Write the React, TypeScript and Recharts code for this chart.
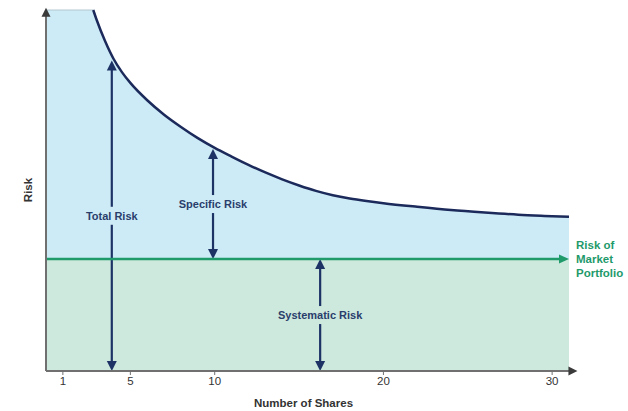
import React from 'react';
import { ComposedChart, Area, Line, XAxis, YAxis, ReferenceLine } from 'recharts';

// number of shares held in the portfolio
const shares = [0, 2.8, 3, 3.5, 4, 4.5, 5, 6, 7, 8, 9, 10, 11, 12, 13, 14, 15, 16, 17, 18, 19, 20, 22, 24, 26, 28, 30, 31];
// total portfolio risk (curve); null where it is above the chart
const totalRisk = [
  null, 100, 97.3, 91.4, 86.5, 82.8, 79.8, 75.0, 71.0, 67.6, 64.5, 61.8, 59.4, 57.1, 55.0, 53.1, 51.4, 49.9, 48.7,
  47.8, 47.1, 46.5, 45.5, 44.6, 43.9, 43.3, 42.9, 42.7,
];
const marketRisk = 31;
const xTicks = [1, 5, 10, 20, 30];

const arrowLabels = ['Total Risk', 'Specific Risk', 'Systematic Risk'];
const arrowShares = [3.9, 9.9, 16.25];
const arrowFrom = [0, marketRisk, 0];
const arrowTo = [86, 61.5, marketRisk];

const data = shares.map((n, i) => ({
  n,
  total: totalRisk[i],
  fillTop: totalRisk[i] == null ? 100 : Math.min(100, totalRisk[i] as number),
  market: marketRisk,
}));

const NAVY = '#1d3366';
const GREEN = '#1f9a6b';
const AXIS = '#707070';
const FONT = '"Liberation Sans", Arial, sans-serif';

const VArrow = (props: any) => {
  const { x1, y1, y2, label } = props;
  const top = Math.min(y1, y2);
  const bottom = Math.max(y1, y2);
  const mid = (top + bottom) / 2;
  const gap = 9;
  const hw = 5;
  const hl = 10;
  return (
    <g>
      <line x1={x1} y1={top + hl - 1} x2={x1} y2={mid - gap} stroke={NAVY} strokeWidth={2.2} />
      <line x1={x1} y1={mid + gap} x2={x1} y2={bottom - hl + 1} stroke={NAVY} strokeWidth={2.2} />
      <polygon points={`${x1},${top} ${x1 - hw},${top + hl} ${x1 + hw},${top + hl}`} fill={NAVY} />
      <polygon points={`${x1},${bottom} ${x1 - hw},${bottom - hl} ${x1 + hw},${bottom - hl}`} fill={NAVY} />
      <text x={x1} y={mid + 4} textAnchor="middle" fontSize={11} fontWeight="bold" fill="#2a3e6c" fontFamily={FONT}>
        {label}
      </text>
    </g>
  );
};

const MarketArrow = (props: any) => {
  const { x1, y1, x2 } = props;
  const hl = 10;
  const hw = 4.5;
  return (
    <g>
      <line x1={x1} y1={y1} x2={x2 - hl + 1} y2={y1} stroke={GREEN} strokeWidth={2.5} />
      <polygon points={`${x2},${y1} ${x2 - hl},${y1 - hw} ${x2 - hl},${y1 + hw}`} fill={GREEN} />
      <text x={x2 + 7} fontSize={11.5} fontWeight="bold" fill={GREEN} fontFamily={FONT}>
        <tspan x={x2 + 7} y={y1 - 10}>Risk of</tspan>
        <tspan x={x2 + 7} y={y1 + 4}>Market</tspan>
        <tspan x={x2 + 7} y={y1 + 18}>Portfolio</tspan>
      </text>
    </g>
  );
};

const AxisArrow = (props: any) => {
  const { x1, y1, x2, y2, dir } = props;
  const hl = 9;
  const hw = 4.5;
  const head =
    dir === 'up'
      ? `${x2},${y2} ${x2 - hw},${y2 + hl} ${x2 + hw},${y2 + hl}`
      : `${x2},${y2} ${x2 - hl},${y2 - hw} ${x2 - hl},${y2 + hw}`;
  return (
    <g>
      <line x1={x1} y1={y1} x2={dir === 'up' ? x2 : x2 - hl + 1} y2={dir === 'up' ? y2 + hl - 1 : y2} stroke={AXIS} strokeWidth={2} />
      <polygon points={head} fill="#3a3a3a" />
    </g>
  );
};

const App: React.FC = () => {
  return (
    <div style={{ position: 'absolute', left: 0, top: 0, background: '#ffffff' }}>
      <ComposedChart width={628} height={411} data={data} margin={{ top: 10, right: 59, bottom: 0, left: 0 }}>
        <XAxis
          dataKey="n"
          type="number"
          domain={[0, 31]}
          ticks={xTicks}
          axisLine={false}
          tickSize={4}
          tickLine={{ stroke: AXIS }}
          tick={{ fill: '#333333', fontSize: 11.5, fontFamily: FONT }}
          height={40}
          label={{
            value: 'Number of Shares',
            position: 'insideBottom',
            offset: 4,
            dx: -4,
            fill: '#333333',
            fontSize: 11.5,
            fontWeight: 'bold',
            fontFamily: FONT,
          }}
        />
        <YAxis
          type="number"
          domain={[0, 100]}
          width={46}
          tick={false}
          tickLine={false}
          axisLine={false}
          label={{
            content: () => (
              <text x={32} y={190} transform="rotate(-90 32 190)" textAnchor="middle" fontSize={11.5} fontWeight="bold" fill="#333333" fontFamily={FONT}>
                Risk
              </text>
            ),
          }}
        />
        <Area dataKey="fillTop" type="monotone" stroke="#b4c6ce" strokeWidth={1} fill="#cdebf7" fillOpacity={1} isAnimationActive={false} />
        <Area dataKey="market" type="linear" stroke="none" fill="#cde8dc" fillOpacity={1} isAnimationActive={false} />
        <Line dataKey="total" type="monotone" stroke="#1b2a5a" strokeWidth={2.5} dot={false} isAnimationActive={false} />
        {arrowLabels.map((lbl, i) => (
          <ReferenceLine
            key={lbl}
            segment={[
              { x: arrowShares[i], y: arrowFrom[i] },
              { x: arrowShares[i], y: arrowTo[i] },
            ]}
            ifOverflow="visible"
            shape={(p: any) => <VArrow {...p} label={lbl} />}
          />
        ))}
        <ReferenceLine
          segment={[
            { x: 0, y: marketRisk },
            { x: 31, y: marketRisk },
          ]}
          ifOverflow="visible"
          shape={(p: any) => <MarketArrow {...p} />}
        />
        <ReferenceLine
          segment={[
            { x: 0, y: 0 },
            { x: 31.5, y: 0 },
          ]}
          ifOverflow="visible"
          shape={(p: any) => <AxisArrow {...p} dir="right" />}
        />
        <ReferenceLine
          segment={[
            { x: 0, y: 0 },
            { x: 0, y: 100.6 },
          ]}
          ifOverflow="visible"
          shape={(p: any) => <AxisArrow {...p} dir="up" />}
        />
      </ComposedChart>
    </div>
  );
};

export default App;
